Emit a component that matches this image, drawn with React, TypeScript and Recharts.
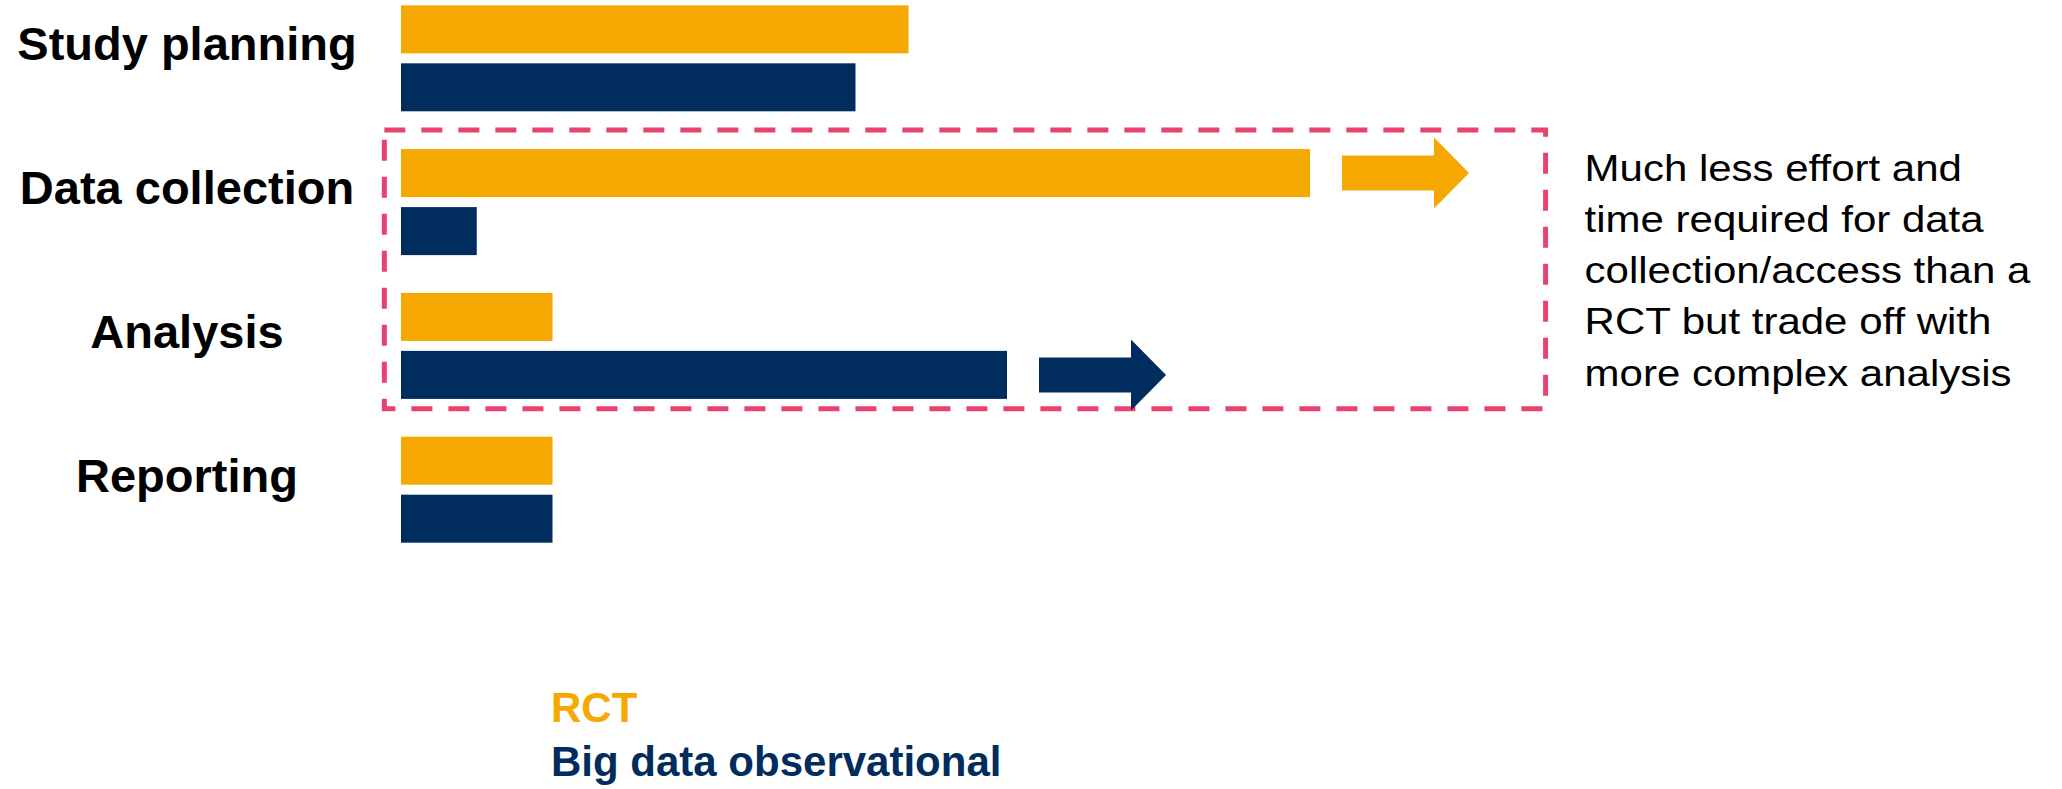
import React from 'react';
import { BarChart, Bar, XAxis, YAxis, ReferenceArea, Legend } from 'recharts';

// stages of a study and relative effort per design
const stages = ['Study planning', 'Data collection', 'Analysis', 'Reporting'];
const rctEffort = [3.35, 6, 1, 1];
const bigDataEffort = [3, 0.5, 4, 1];
// which bars carry a "grows" arrow
const rctArrow = [false, true, false, false];
const bigDataArrow = [false, false, true, false];

const seriesNames = ['RCT', 'Big data observational'];

const annotationLines = [
  'Much less effort and',
  'time required for data',
  'collection/access than a',
  'RCT but trade off with',
  'more complex analysis',
];

const RCT_COLOR = '#F5A800';
const BIG_DATA_COLOR = '#002D5E';
const BOX_COLOR = '#E8426F';
const FONT = '"Liberation Sans", Arial, sans-serif';
const seriesColors = [RCT_COLOR, BIG_DATA_COLOR];

const data = stages.map((stage, i) => ({
  stage,
  rct: rctEffort[i],
  bigData: bigDataEffort[i],
}));

const makeArrowBar = (flags: boolean[]) => (props: any) => {
  const { x, y, width, height, fill, index } = props;
  const cy = y + height / 2;
  const shaft = height * 0.73;
  const head = height * 1.48;
  const start = x + width + 32;
  const headStart = start + 92;
  const tip = start + 127;
  return (
    <g>
      <rect x={x} y={y} width={width} height={height} fill={fill} />
      {flags[index] && (
        <polygon
          fill={fill}
          points={[
            [start, cy - shaft / 2],
            [headStart, cy - shaft / 2],
            [headStart, cy - head / 2],
            [tip, cy],
            [headStart, cy + head / 2],
            [headStart, cy + shaft / 2],
            [start, cy + shaft / 2],
          ]
            .map((p) => p.join(','))
            .join(' ')}
        />
      )}
    </g>
  );
};

const StageTick = (props: any) => {
  const { y, payload } = props;
  return (
    <text
      x={187}
      y={y}
      dy={2}
      textAnchor="middle"
      fontFamily={FONT}
      fontWeight="bold"
      fontSize={47}
      fill="#000"
    >
      {payload.value}
    </text>
  );
};

const HighlightBox = (props: any) => {
  const { x, y, width, height } = props;
  const tx = x + width + 39;
  const ty = y + 50.7;
  return (
    <g>
      <rect
        x={x}
        y={y}
        width={width}
        height={height - 9}
        fill="none"
        stroke={BOX_COLOR}
        strokeWidth={5}
        strokeDasharray="21 16"
      />
      <text
        transform={`translate(${tx},${ty}) scale(1.135,1)`}
        fontFamily={FONT}
        fontSize={37}
        fill="#000"
      >
        {annotationLines.map((line, i) => (
          <tspan key={i} x={0} y={i * 51.2}>
            {line}
          </tspan>
        ))}
      </text>
    </g>
  );
};

const LegendContent = () => (
  <div style={{ fontFamily: FONT, fontWeight: 'bold', fontSize: 42, lineHeight: '54px' }}>
    {seriesNames.map((name, i) => (
      <div key={name} style={{ color: seriesColors[i], whiteSpace: 'nowrap' }}>
        {name}
      </div>
    ))}
  </div>
);

export default function App() {
  return (
    <div style={{ position: 'absolute', left: 0, top: -20, width: 2062, height: 820, background: '#fff' }}>
      <BarChart
        width={2062}
        height={820}
        data={data}
        layout="vertical"
        margin={{ top: 6.3, right: 146, bottom: 238.5, left: 0 }}
        barSize={48}
        barGap={10}
      >
        <XAxis type="number" domain={[0, 10]} hide />
        <YAxis
          type="category"
          dataKey="stage"
          width={401}
          axisLine={false}
          tickLine={false}
          tick={StageTick}
          interval={0}
        />
        <ReferenceArea
          y1="Data collection"
          y2="Analysis"
          x1={-0.11}
          x2={7.555}
          ifOverflow="visible"
          shape={HighlightBox}
        />
        <Bar
          dataKey="rct"
          name={seriesNames[0]}
          fill={RCT_COLOR}
          shape={makeArrowBar(rctArrow)}
          isAnimationActive={false}
        />
        <Bar
          dataKey="bigData"
          name={seriesNames[1]}
          fill={BIG_DATA_COLOR}
          shape={makeArrowBar(bigDataArrow)}
          isAnimationActive={false}
        />
        <Legend
          layout="vertical"
          align="center"
          verticalAlign="middle"
          content={LegendContent}
          wrapperStyle={{ left: 551, top: 701, width: 700, height: 'auto' }}
        />
      </BarChart>
    </div>
  );
}
